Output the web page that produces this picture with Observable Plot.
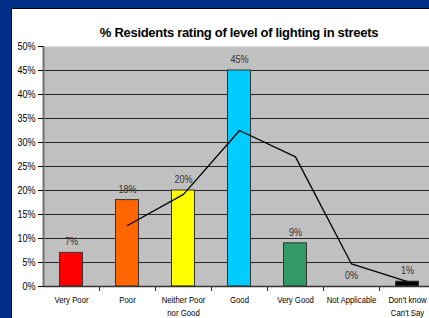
<!DOCTYPE html>
<html>
<head>
<meta charset="utf-8">
<script src="https://cdn.jsdelivr.net/npm/d3@7"></script>
<script src="https://cdn.jsdelivr.net/npm/@observablehq/plot@0.6"></script>
<style>
  html, body { margin: 0; padding: 0; }
  body { width: 429px; height: 318px; overflow: hidden; position: relative; background: #002F87; }
  #panel { position: absolute; left: 11px; top: 8px; width: 440px; height: 330px; background: #fff;
           border-left: 1px solid #000; border-top: 1px solid #000; }
  #title { position: relative; height: 28px; }
  #title span { position: absolute; left: 0; width: 454px; top: 16px; line-height: 16px; text-align: center;
                font: bold 13px "Liberation Sans", Arial, sans-serif; letter-spacing: -0.3px; color: #000; }
  #chart svg { display: block; }
</style>
</head>
<body>
<div id="panel">
  <div id="title"><span>% Residents rating of level of lighting in streets</span></div>
  <div id="chart"></div>
</div>
<script>
const categories = ["Very Poor", "Poor", "Neither Poor nor Good", "Good", "Very Good", "Not Applicable", "Don't know Can't Say"];
const tickLabels = ["Very Poor", "Poor", "Neither Poor\nnor Good", "Good", "Very Good", "Not Applicable", "Don't know\nCan't Say"];
const barValues = [7, 18, 20, 45, 9, 0, 1];
const barColors = ["#FF0000", "#FF6600", "#FFFF00", "#00CCFF", "#339966", "#C0C0C0", "#000000"];
const lineCategories = ["Poor", "Neither Poor nor Good", "Good", "Very Good", "Not Applicable", "Don't know Can't Say"];
const lineValues = [12.7, 19.2, 32.5, 27, 4.7, 1];
const yTicks = [0, 5, 10, 15, 20, 25, 30, 35, 40, 45, 50];

const bars = categories.map((c, i) => ({cat: c, value: barValues[i], color: barColors[i]}));
const line = lineCategories.map((c, i) => ({cat: c, value: lineValues[i]}));
const labelOf = new Map(categories.map((c, i) => [c, tickLabels[i]]));

const W = 423, ML = 31, MR = 0;
const step = (W - ML - MR) / categories.length;

const chart = Plot.plot({
  width: W,
  height: 281,
  marginTop: 9,
  marginBottom: 32,
  marginLeft: ML,
  marginRight: MR,
  style: {background: "transparent", fontFamily: "'Liberation Sans Narrow', 'Arial Narrow', 'Liberation Sans', sans-serif", color: "#000"},
  x: {domain: categories, padding: 0},
  y: {domain: [0, 50]},
  marks: [
    Plot.frame({fill: "#C0C0C0", stroke: null}),
    Plot.gridY(yTicks.filter(d => d > 0 && d < 50), {stroke: "#262626", strokeOpacity: 1, strokeWidth: 1}),
    Plot.barY(bars.filter(d => d.value > 0), {x: "cat", y: "value", fill: "color", stroke: "#333", strokeWidth: 1, insetLeft: 16.5, insetRight: 16.5}),
    Plot.line(line, {x: "cat", y: "value", stroke: "#000", strokeWidth: 1.3}),
    Plot.text(bars, {x: "cat", y: "value", text: d => d.value + "%", dy: -11, fontSize: 11, fill: "#333"}),
    Plot.ruleY([0], {stroke: "#333", strokeWidth: 1.5}),
    Plot.ruleX([categories[0]], {x: d => d, dx: -step / 2, y1: 0, y2: 50, stroke: "#707070", strokeWidth: 2}),
    Plot.ruleX(categories.slice(1), {x: d => d, dx: -step / 2, y1: 0, y2: 0, insetBottom: -5, stroke: "#333", strokeWidth: 1}),
    Plot.axisY({ticks: yTicks, tickSize: 5, tickPadding: 3, tickFormat: d => d + "%", label: null, fontSize: 11, stroke: "#000"}),
    Plot.axisX({tickSize: 0, tickPadding: 7, tickFormat: d => labelOf.get(d), label: null, fontSize: 9.5, lineHeight: 1.4, fill: "#000"})
  ]
});

// Condense all chart texts horizontally (the reference uses a narrow face)
d3.select(chart).selectAll("text").each(function () {
  const t = this.getAttribute("transform") || "";
  const x = +(this.getAttribute("x") || 0);
  this.setAttribute("transform", `${t} translate(${x},0) scale(0.82,1) translate(${-x},0)`);
});

document.getElementById("chart").appendChild(chart);
</script>
</body>
</html>
